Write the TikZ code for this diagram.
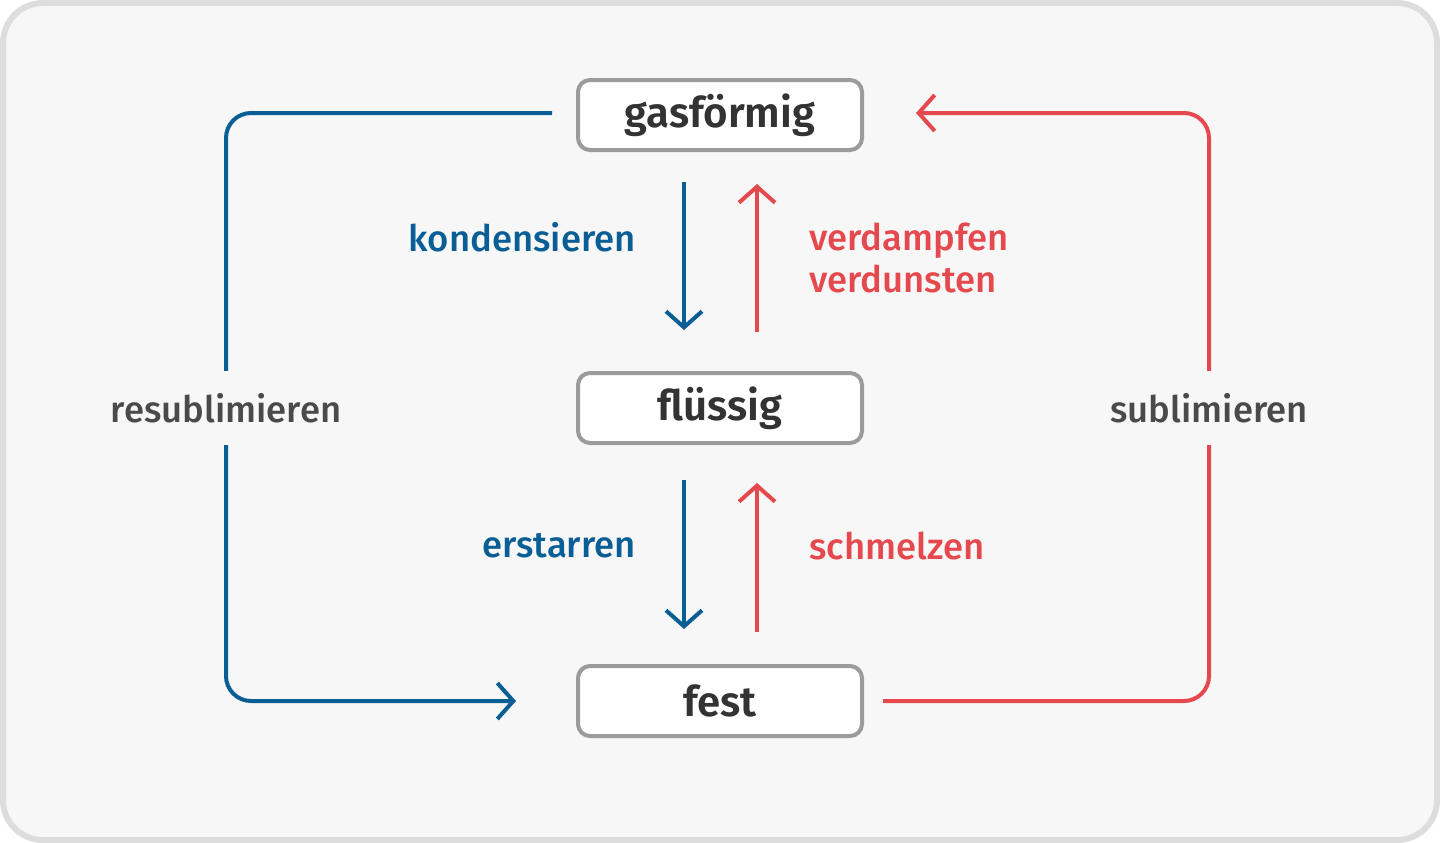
\documentclass[tikz,border=0pt]{standalone}
\usepackage{fontspec}
\setmainfont{Fira Sans}[BoldFont={* SemiBold}]
\newfontfamily\labfont{Fira Sans}[UprightFont={* Medium}]
\usetikzlibrary{arrows.meta,calc}
\definecolor{bgc}{HTML}{F7F7F7}
\definecolor{framec}{HTML}{DDDDDD}
\definecolor{boxc}{HTML}{9B9B9B}
\definecolor{txt}{HTML}{333333}
\definecolor{lgrey}{HTML}{4A4A4A}
\definecolor{blu}{HTML}{0A5E96}
\definecolor{rd}{HTML}{E5484D}
\tikzset{
  state/.style={draw=boxc,line width=4pt,fill=white,rounded corners=12pt,
    minimum width=284pt,minimum height=70pt,inner sep=0pt,
    font=\bfseries\fontsize{42}{48}\selectfont,text=txt},
  lab/.style={font=\labfont\fontsize{36.5}{42}\selectfont,inner sep=0pt},
  side/.style={lab,text=lgrey,minimum height=74pt},
  flow/.style={line width=4pt,rounded corners=25pt,
    -{Straight Barb[length=16pt,width=36pt,line width=4pt]}},
  plain/.style={line width=4pt,rounded corners=25pt}
}
\begin{document}
\begin{tikzpicture}[x=1pt,y=-1pt]
\useasboundingbox (0,0) rectangle (1440,843);
\draw[fill=bgc,draw=framec,line width=6pt,rounded corners=40pt] (3,3) rectangle (1437,840);
\node[state] (gas) at (720,115) {gasförmig};
\node[state] (flu) at (720,408) {flüssig};
\node[state] (fest) at (720,701) {fest};
\node[side] (resub) at (226,408) {resublimieren};
\node[side] (sub) at (1209,408) {sublimieren};
% vertical arrows
\draw[flow,blu] ($(gas.south)+(-36,30)$) -- ($(flu.north)+(-36,-41)$);
\draw[flow,rd] ($(flu.north)+(37,-39)$) -- ($(gas.south)+(37,32)$);
\draw[flow,blu] ($(flu.south)+(-36,35)$) -- ($(fest.north)+(-36,-35)$);
\draw[flow,rd] ($(fest.north)+(37,-32)$) -- ($(flu.south)+(37,38)$);
% labels
\node[lab,text=blu,anchor=east] (kond) at (636,237) {kondensieren};
\node[lab,text=rd,anchor=west,align=left] (verd) at (809,258) {verdampfen\\verdunsten};
\node[lab,text=blu,anchor=east] (erst) at (636,546) {erstarren};
\node[lab,text=rd,anchor=west] (schm) at (809,546) {schmelzen};
% sublimation paths
\draw[plain,blu] ($(gas.west)+(-24,-2)$) -| (resub.north);
\draw[flow,blu] (resub.south) |- ($(fest.west)+(-60,0)$);
\draw[plain,rd] ($(fest.east)+(19,0)$) -| (sub.south);
\draw[flow,rd] (sub.north) |- ($(gas.east)+(52,-2)$);
\end{tikzpicture}
\end{document}
